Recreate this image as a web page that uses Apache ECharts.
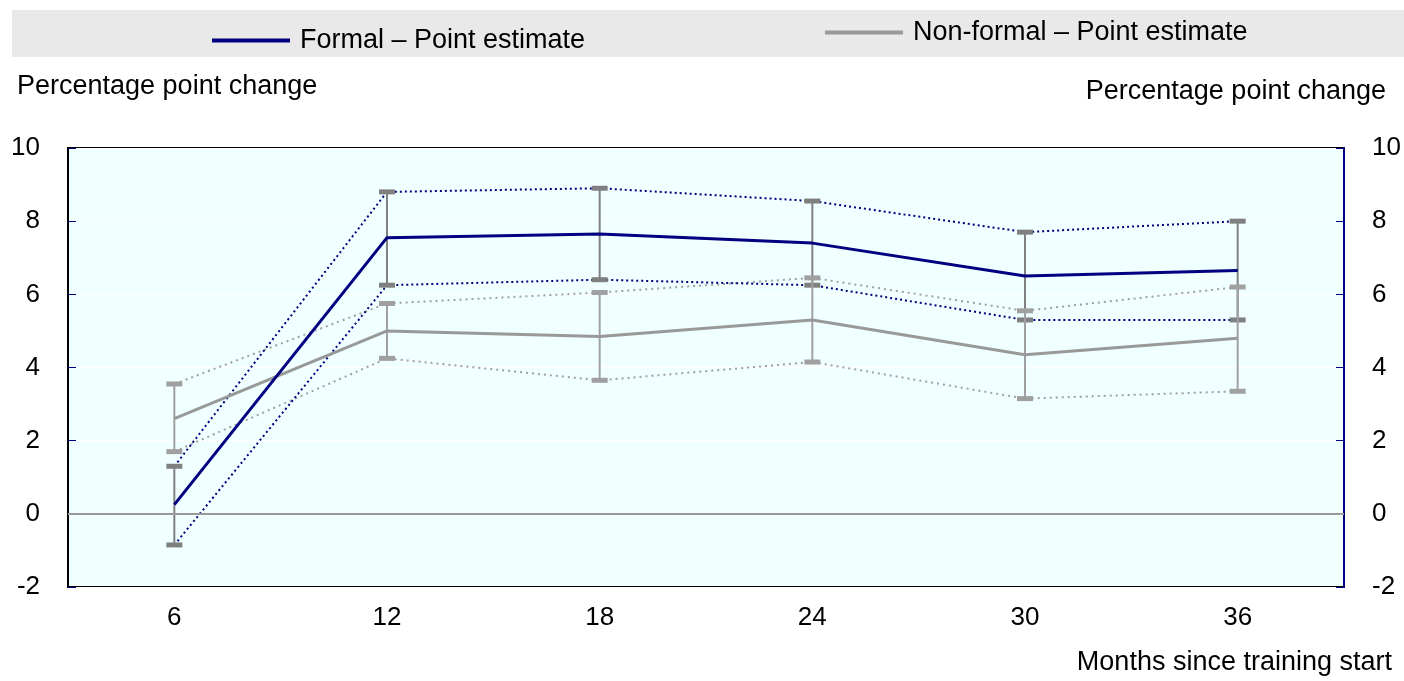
<!DOCTYPE html>
<html>
<head>
<meta charset="utf-8">
<script src="https://cdn.jsdelivr.net/npm/echarts@6/dist/echarts.min.js"></script>
<style>
  html, body { margin: 0; padding: 0; background: #fff; }
  #chart { width: 1404px; height: 681px; }
</style>
</head>
<body>
<div id="chart"></div>
<script>
const months = ['6', '12', '18', '24', '30', '36'];

const formalPoint = [0.25, 7.55, 7.65, 7.4, 6.5, 6.65];
const formalUpper = [1.3, 8.8, 8.9, 8.55, 7.7, 8.0];
const formalLower = [-0.85, 6.25, 6.4, 6.25, 5.3, 5.3];

const nonFormalPoint = [2.6, 5.0, 4.85, 5.3, 4.35, 4.8];
const nonFormalUpper = [3.55, 5.75, 6.05, 6.45, 5.55, 6.2];
const nonFormalLower = [1.7, 4.25, 3.65, 4.15, 3.15, 3.35];

const FONT = "'Liberation Sans', Arial, sans-serif";
const NAVY = '#000080';
const GREY = '#999999';

// vertical bar with caps, from lower to upper
const errorBar = (color) => (params, api) => {
    const x = api.coord([api.value(0), 0])[0];
    const lo = api.coord([api.value(0), api.value(1)])[1];
    const hi = api.coord([api.value(0), api.value(2)])[1];
    const half = 8;
    const style = { stroke: color, lineWidth: 2 };
    const capStyle = { stroke: color, lineWidth: 5 };
    return {
        type: 'group',
        children: [
            { type: 'line', shape: { x1: x, y1: lo, x2: x, y2: hi }, style },
            { type: 'line', shape: { x1: x - half, y1: lo, x2: x + half, y2: lo }, style: capStyle },
            { type: 'line', shape: { x1: x - half, y1: hi, x2: x + half, y2: hi }, style: capStyle },
        ],
    };
};

const chart = echarts.init(document.getElementById('chart'));

const yAxisBase = {
    type: 'value',
    min: -2,
    max: 10,
    interval: 2,
    axisLabel: { fontFamily: FONT, fontSize: 26, color: '#000', margin: 28 },
    axisTick: { show: true, inside: true, length: 8, lineStyle: { color: NAVY, width: 1 } },
    splitLine: { show: true, lineStyle: { color: '#ffffff', width: 1 } },
};

const legendText = { fontFamily: FONT, fontSize: 27, color: '#000', padding: [0, 0, 0, 5] };

chart.setOption({
    animation: false,
    textStyle: { fontFamily: FONT },
    graphic: [
        {
            type: 'rect',
            left: 12, top: 10, z: -10,
            shape: { width: 1392, height: 47 },
            style: { fill: '#e9e9e9' },
        },
        {
            type: 'text', left: 17, top: 73,
            style: { text: 'Percentage point change', font: '27px ' + FONT, fill: '#000' },
        },
        {
            type: 'text', right: 18, top: 78,
            style: { text: 'Percentage point change', font: '27px ' + FONT, fill: '#000' },
        },
        {
            type: 'text', right: 12, top: 649,
            style: { text: 'Months since training start', font: '27px ' + FONT, fill: '#000' },
        },
    ],
    legend: [
        {
            data: ['Formal – Point estimate'],
            left: 212, top: 27, padding: 0,
            itemWidth: 78, itemHeight: 4,
            icon: 'rect',
            textStyle: legendText,
        },
        {
            data: ['Non-formal – Point estimate'],
            left: 825, top: 19, padding: 0,
            itemWidth: 78, itemHeight: 4,
            icon: 'rect',
            textStyle: legendText,
        },
    ],
    grid: {
        left: 68, right: 60, top: 148, bottom: 94,
        show: true,
        backgroundColor: '#f0ffff',
        borderColor: '#000',
        borderWidth: 2,
    },
    xAxis: {
        type: 'category',
        data: months,
        boundaryGap: true,
        axisLine: { show: true, lineStyle: { color: '#000', width: 2 } },
        axisTick: { show: false },
        axisLabel: { fontFamily: FONT, fontSize: 26, color: '#000', margin: 18 },
    },
    yAxis: [
        Object.assign({}, yAxisBase, {
            position: 'left',
            axisLine: { show: true, lineStyle: { color: '#000', width: 2 } },
        }),
        Object.assign({}, yAxisBase, {
            position: 'right',
            axisLine: { show: true, lineStyle: { color: NAVY, width: 2 } },
            splitLine: { show: false },
        }),
    ],
    series: [
        {
            name: 'zero',
            type: 'line',
            data: [],
            markLine: {
                silent: true,
                symbol: 'none',
                label: { show: false },
                lineStyle: { color: GREY, width: 2, type: 'solid' },
                data: [{ yAxis: 0 }],
            },
        },
        {
            name: 'Formal bars',
            type: 'custom',
            renderItem: errorBar('#808080'),
            data: months.map((m, i) => [i, formalLower[i], formalUpper[i]]),
            z: 3,
        },
        {
            name: 'Non-formal bars',
            type: 'custom',
            renderItem: errorBar('#a0a0a0'),
            data: months.map((m, i) => [i, nonFormalLower[i], nonFormalUpper[i]]),
            z: 3,
        },
        {
            name: 'Non-formal upper', type: 'line', data: nonFormalUpper,
            symbol: 'none', lineStyle: { color: '#a0a0a0', width: 2, type: [2, 4] }, z: 2,
        },
        {
            name: 'Non-formal lower', type: 'line', data: nonFormalLower,
            symbol: 'none', lineStyle: { color: '#a0a0a0', width: 2, type: [2, 4] }, z: 2,
        },
        {
            name: 'Formal upper', type: 'line', data: formalUpper,
            symbol: 'none', lineStyle: { color: NAVY, width: 2, type: [2, 3] }, z: 2,
        },
        {
            name: 'Formal lower', type: 'line', data: formalLower,
            symbol: 'none', lineStyle: { color: NAVY, width: 2, type: [2, 3] }, z: 2,
        },
        {
            name: 'Non-formal – Point estimate', type: 'line', data: nonFormalPoint,
            symbol: 'none', color: GREY, lineStyle: { color: GREY, width: 3 }, z: 4,
        },
        {
            name: 'Formal – Point estimate', type: 'line', data: formalPoint,
            symbol: 'none', color: NAVY, lineStyle: { color: NAVY, width: 3 }, z: 5,
        },
    ],
});
</script>
</body>
</html>
